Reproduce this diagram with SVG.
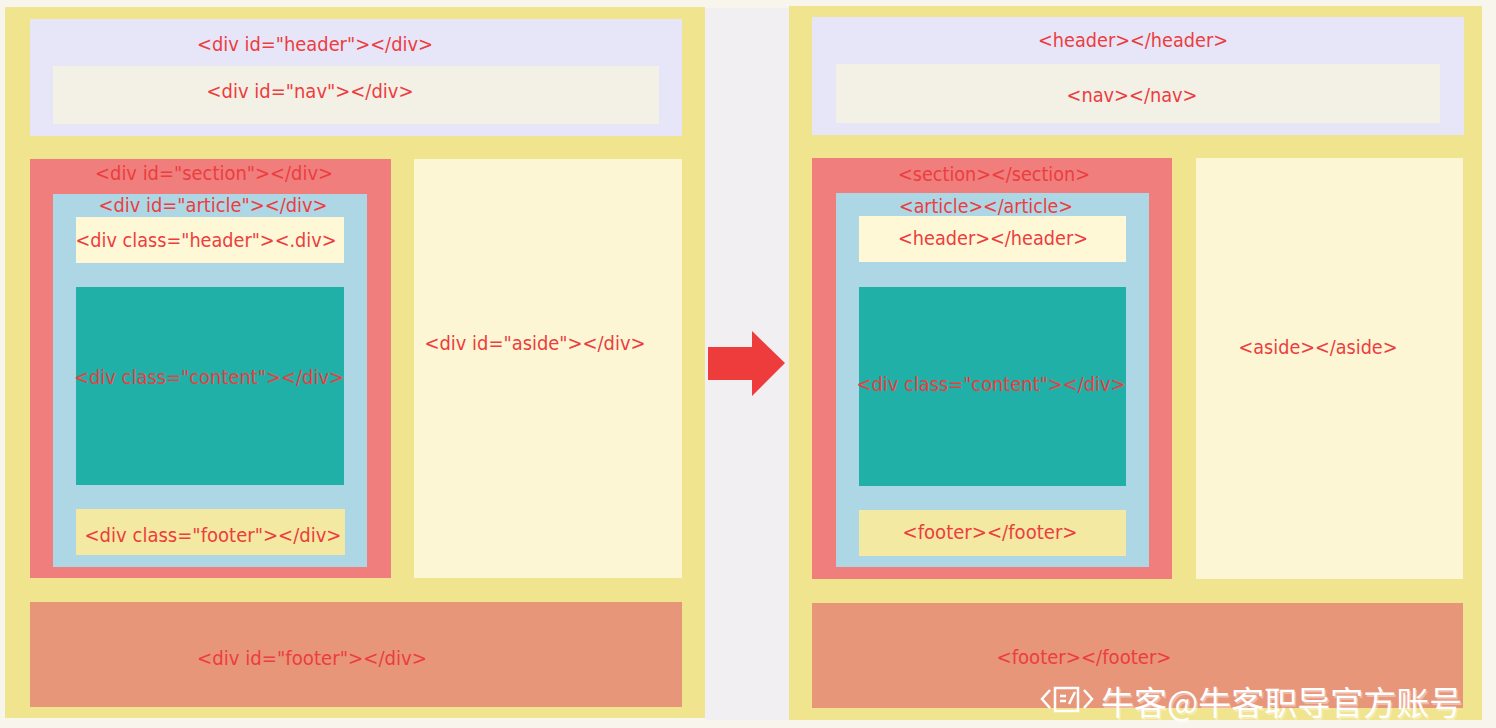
<svg xmlns="http://www.w3.org/2000/svg" width="1496" height="728" viewBox="0 0 1496 728">
<style>
.outer{fill:#F0E48E}
.lav{fill:#E7E5F8}
.nav{fill:#F3F0E6}
.sec{fill:#F07E7C}
.art{fill:#ADD7E5}
.hd{fill:#FEF8D6}
.ct{fill:#20B0A8}
.ft{fill:#F3E9A2}
.as{fill:#FCF6D4}
.foot{fill:#E89679}
.t{font-family:"DejaVu Sans Condensed","Liberation Sans",Arial,sans-serif;font-size:20px;fill:#EC3D3F;text-anchor:middle}
.wm{font-family:"Noto Sans CJK SC","Noto Sans",sans-serif;font-size:33px;fill:#FFFFFF}
</style>
<rect x="0" y="0" width="1496" height="728" fill="#F7F5EC"/>
<rect x="705" y="8" width="84" height="712" fill="#F1EFF2"/>

<g id="left-page">
<rect class="outer" x="5" y="7" width="700" height="711"/>
</g>
<g id="left-header">
<rect class="lav" x="30" y="19" width="652" height="117"/>
<text class="t" x="315" y="51" textLength="236" lengthAdjust="spacingAndGlyphs">&lt;div id="header"&gt;&lt;/div&gt;</text>
</g>
<g id="left-nav">
<rect class="nav" x="53" y="66" width="606" height="58"/>
<text class="t" x="310" y="98" textLength="207" lengthAdjust="spacingAndGlyphs">&lt;div id="nav"&gt;&lt;/div&gt;</text>
</g>
<g id="left-section">
<rect class="sec" x="30" y="159" width="361" height="419"/>
<text class="t" x="214" y="180" textLength="238" lengthAdjust="spacingAndGlyphs">&lt;div id="section"&gt;&lt;/div&gt;</text>
</g>
<g id="left-article">
<rect class="art" x="53" y="194" width="314" height="373"/>
<text class="t" x="213" y="212" textLength="229" lengthAdjust="spacingAndGlyphs">&lt;div id="article"&gt;&lt;/div&gt;</text>
</g>
<g id="left-article-header">
<rect class="hd" x="76" y="217" width="268" height="46"/>
<text class="t" x="206" y="247" textLength="261" lengthAdjust="spacingAndGlyphs">&lt;div class="header"&gt;&lt;.div&gt;</text>
</g>
<g id="left-content">
<rect class="ct" x="76" y="287" width="268" height="198"/>
<text class="t" x="209" y="384" textLength="270" lengthAdjust="spacingAndGlyphs">&lt;div class="content"&gt;&lt;/div&gt;</text>
</g>
<g id="left-article-footer">
<rect class="ft" x="76" y="509" width="269" height="46"/>
<text class="t" x="213" y="542" textLength="257" lengthAdjust="spacingAndGlyphs">&lt;div class="footer"&gt;&lt;/div&gt;</text>
</g>
<g id="left-aside">
<rect class="as" x="414" y="159" width="268" height="419"/>
<text class="t" x="535" y="350" textLength="221" lengthAdjust="spacingAndGlyphs">&lt;div id="aside"&gt;&lt;/div&gt;</text>
</g>
<g id="left-footer">
<rect class="foot" x="30" y="602" width="652" height="105"/>
<text class="t" x="312" y="665" textLength="230" lengthAdjust="spacingAndGlyphs">&lt;div id="footer"&gt;&lt;/div&gt;</text>
</g>

<g id="right-page">
<rect class="outer" x="789" y="6" width="693" height="714"/>
</g>
<g id="right-header">
<rect class="lav" x="812" y="17" width="652" height="118"/>
<text class="t" x="1133" y="47" textLength="190" lengthAdjust="spacingAndGlyphs">&lt;header&gt;&lt;/header&gt;</text>
</g>
<g id="right-nav">
<rect class="nav" x="836" y="64" width="604" height="59"/>
<text class="t" x="1132" y="102" textLength="131" lengthAdjust="spacingAndGlyphs">&lt;nav&gt;&lt;/nav&gt;</text>
</g>
<g id="right-section">
<rect class="sec" x="812" y="158" width="360" height="421"/>
<text class="t" x="994" y="181" textLength="192" lengthAdjust="spacingAndGlyphs">&lt;section&gt;&lt;/section&gt;</text>
</g>
<g id="right-article">
<rect class="art" x="836" y="193" width="313" height="374"/>
<text class="t" x="986" y="213" textLength="174" lengthAdjust="spacingAndGlyphs">&lt;article&gt;&lt;/article&gt;</text>
</g>
<g id="right-article-header">
<rect class="hd" x="859" y="216" width="267" height="46"/>
<text class="t" x="993" y="245" textLength="190" lengthAdjust="spacingAndGlyphs">&lt;header&gt;&lt;/header&gt;</text>
</g>
<g id="right-content">
<rect class="ct" x="859" y="287" width="267" height="199"/>
<text class="t" x="991" y="391" textLength="269" lengthAdjust="spacingAndGlyphs">&lt;div class="content"&gt;&lt;/div&gt;</text>
</g>
<g id="right-article-footer">
<rect class="ft" x="859" y="510" width="267" height="46"/>
<text class="t" x="990" y="539" textLength="175" lengthAdjust="spacingAndGlyphs">&lt;footer&gt;&lt;/footer&gt;</text>
</g>
<g id="right-aside">
<rect class="as" x="1196" y="158" width="267" height="421"/>
<text class="t" x="1318" y="354" textLength="159" lengthAdjust="spacingAndGlyphs">&lt;aside&gt;&lt;/aside&gt;</text>
</g>
<g id="right-footer">
<rect class="foot" x="812" y="603" width="651" height="105"/>
<text class="t" x="1084" y="664" textLength="175" lengthAdjust="spacingAndGlyphs">&lt;footer&gt;&lt;/footer&gt;</text>
</g>

<g id="connectors">
<polygon points="708,347 752,347 752,331 785,363 752,396 752,380 708,380" fill="#EE3B3B"/>
</g>

<g id="watermark">
<g fill="none" stroke="#FFFFFF" stroke-width="2.5">
<polyline points="1050,690 1042,699 1050,708"/>
<polyline points="1084,690 1092,699 1084,708"/>
<rect x="1055" y="688" width="23" height="23"/>
<line x1="1060" y1="696" x2="1066" y2="696"/>
<line x1="1060" y1="701" x2="1066" y2="701"/>
<line x1="1069" y1="704" x2="1075" y2="692"/>
</g>
<text class="wm" x="1101" y="715" fill="#555" opacity="0.35" transform="translate(1.5,1.5)">牛客@牛客职导官方账号</text>
<text class="wm" x="1101" y="715">牛客@牛客职导官方账号</text>
</g>
</svg>
